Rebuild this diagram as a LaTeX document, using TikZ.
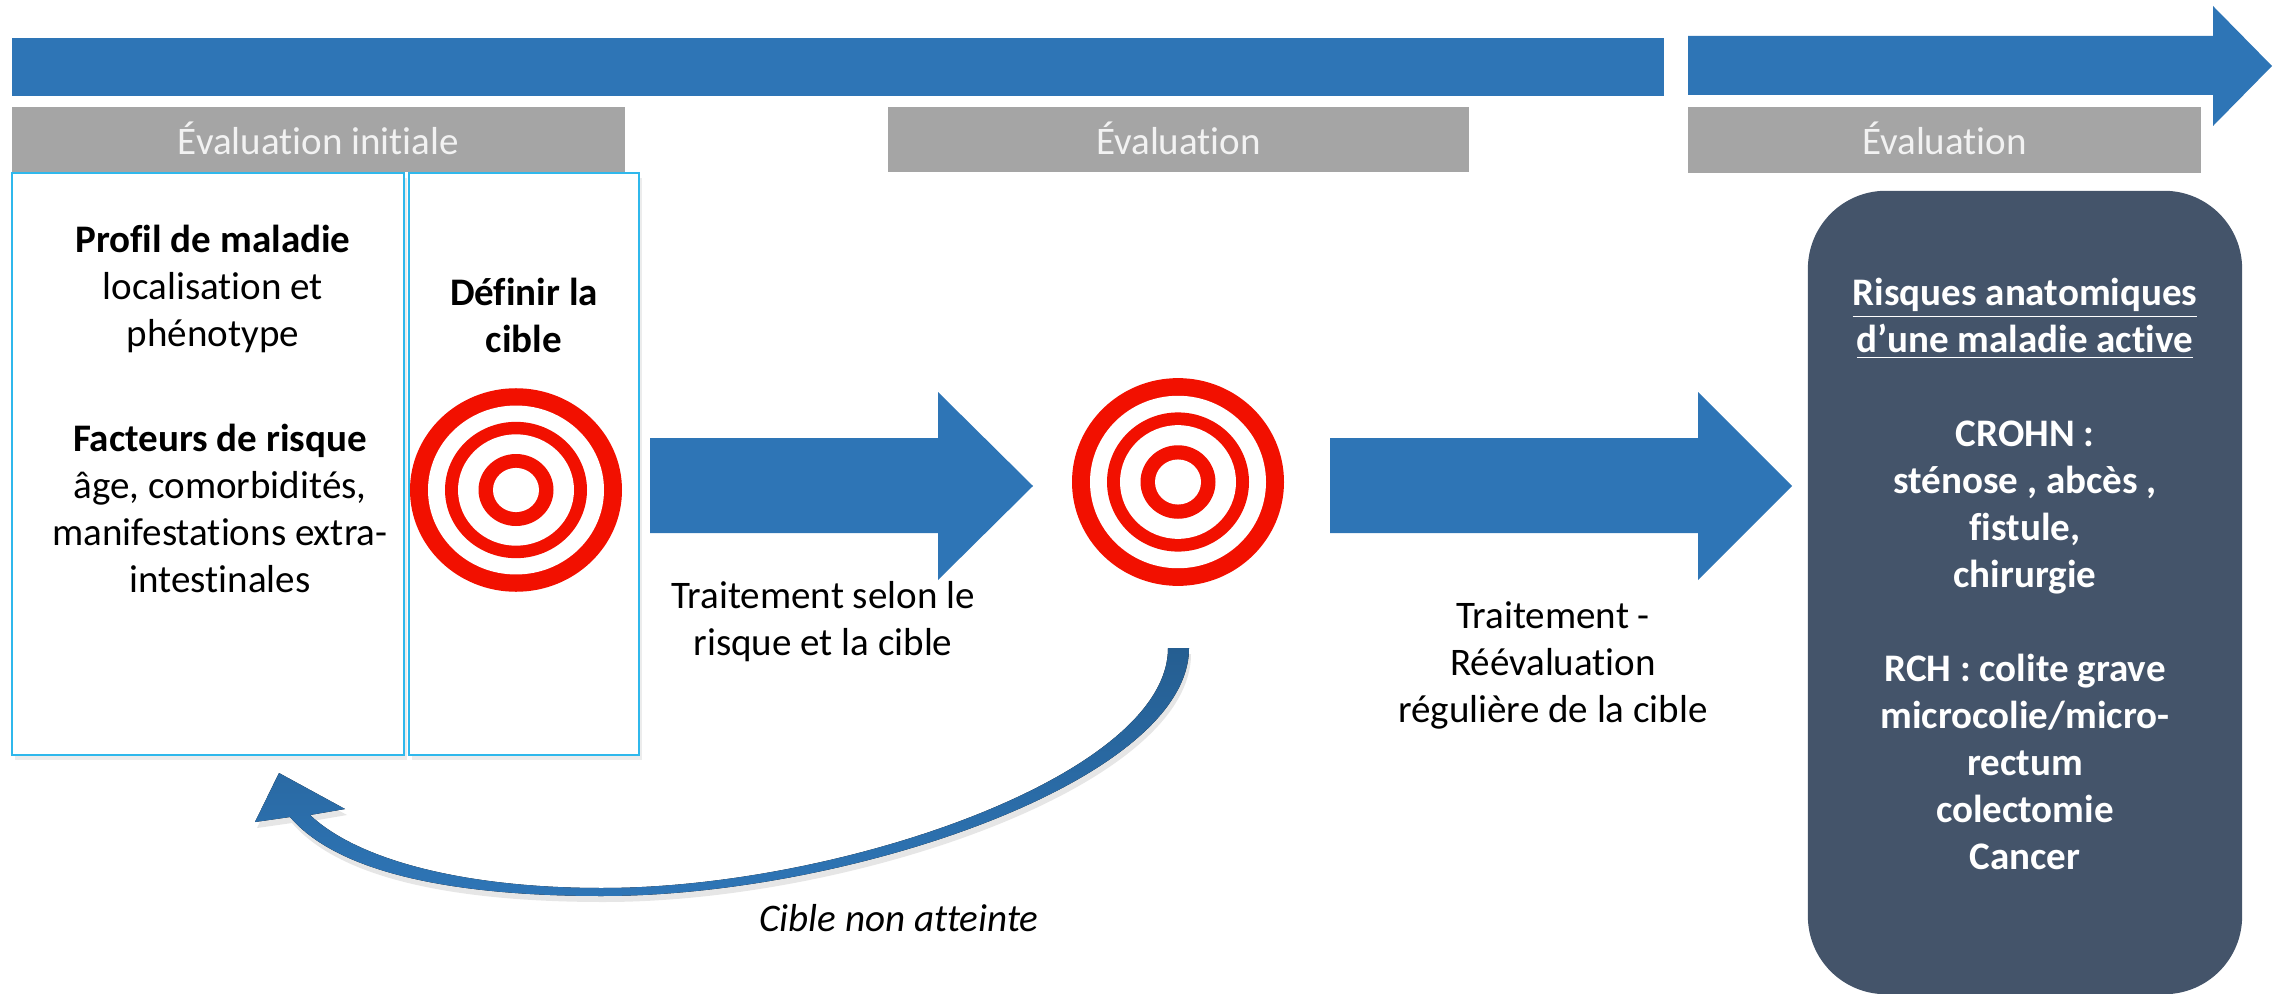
\documentclass[tikz,border=0pt]{standalone}
\usepackage{fontspec}
\setmainfont[Ligatures=NoCommon]{Carlito}
\usetikzlibrary{shadows}
\definecolor{bleu}{HTML}{2E75B6}
\definecolor{bleufonce}{HTML}{255E91}
\definecolor{gris}{HTML}{A5A5A5}
\definecolor{cadre}{HTML}{2FB8EC}
\definecolor{ardoise}{HTML}{44546A}
\definecolor{rouge}{HTML}{F21000}
\tikzset{
  texte/.style={align=center,inner sep=0pt,font=\fontsize{11.1}{13.37}\selectfont},
  bandeau/.style={fill=gris,text=white!95!black,inner sep=0pt,font=\fontsize{11.1}{13.37}\selectfont},
  boite/.style={draw=cadre,fill=white,line width=0.5pt,inner sep=0pt,drop shadow={shadow xshift=0.3mm,shadow yshift=-0.5mm,opacity=0.15}},
  retour/.style={top color=bleufonce,middle color=bleu,bottom color=bleu,drop shadow={shadow xshift=0.2mm,shadow yshift=-0.6mm,opacity=0.2}}
}
\begin{document}
\begin{tikzpicture}[x=0.01cm,y=-0.01cm]
\useasboundingbox (0,0) rectangle (2284,994);
\fill[bleu] (12,38) rectangle (1664,96);
\fill[bleu] (1688,36) -- (2213,36) -- (2213,6) -- (2272,66) -- (2213,126) -- (2213,95) -- (1688,95) -- cycle;
\node[bandeau,minimum width=6.13cm,minimum height=0.65cm] (initiale) at (318.5,139.5) {\raisebox{1pt}{Évaluation initiale}};
\node[bandeau,minimum width=5.81cm,minimum height=0.65cm] (suivi) at (1178.5,139.5) {\raisebox{1pt}{Évaluation}};
\node[bandeau,minimum width=5.13cm,minimum height=0.65cm] (finale) at (1944.5,140) {\raisebox{1pt}{Évaluation}};
\node[boite,minimum width=3.92cm,minimum height=5.82cm] (profil) at (208,464) {};
\node[boite,minimum width=2.30cm,minimum height=5.82cm] (definir) at (524,464) {};
\node[texte] (maladie) at (213,289) {\textbf{Profil de maladie}\\localisation et\\phénotype};
\node[texte] (facteurs) at (220,508) {\textbf{Facteurs de risque}\\âge, comorbidités,\\manifestations extra-\\intestinales};
\node[texte] (cible) at (524,315) {\textbf{Définir la}\\\textbf{cible}};
\foreach \cx/\cy/\ry in {516/490/0.96,1178/482/0.98}
  \foreach \r/\c in {106/rouge,88/white,71/rouge,58/white,37.5/rouge,23/white}
    \fill[\c] (\cx,\cy) circle[x radius=\r,y radius=\ry*\r];
\foreach \xa/\xb/\xc in {650/938/1033,1330/1698/1792}
  \fill[bleu] (\xa,438) -- (\xb,438) -- (\xb,392) -- (\xc,486) -- (\xb,580) -- (\xb,533) -- (\xa,533) -- cycle;
\node[texte] (traitement) at (823,622) {Traitement selon le\\risque et la cible};
\node[texte] (reevaluation) at (1553,665) {Traitement -\\Réévaluation\\régulière de la cible};
\node[texte,font=\fontsize{11.1}{13.37}\selectfont\itshape] (nonatteinte) at (899,918) {Cible non atteinte};
\fill[retour] (1189,648) .. controls (1189,780) and (850,896) .. (602,896)
  .. controls (460,896) and (340,875) .. (290,817)
  -- (255,822) -- (279,773) -- (345,809) -- (310,815)
  .. controls (360,862) and (470,888) .. (602,888)
  .. controls (840,888) and (1168,775) .. (1168,648) -- cycle;
\node[fill=ardoise,rounded corners=0.78cm,minimum width=4.34cm,minimum height=8.03cm,inner sep=0pt] (anatomie) at (2025,592.5) {};
\node[texte,text=white,font=\fontsize{11.1}{13.37}\selectfont\bfseries] (risques) at (2025,574) {\underline{Risques anatomiques}\\\underline{d’une maladie active}\\[13.37pt]CROHN :\\sténose , abcès ,\\fistule,\\chirurgie\\[13.37pt]RCH : colite grave\\microcolie/micro-\\rectum\\colectomie\\Cancer};
\end{tikzpicture}
\end{document}
